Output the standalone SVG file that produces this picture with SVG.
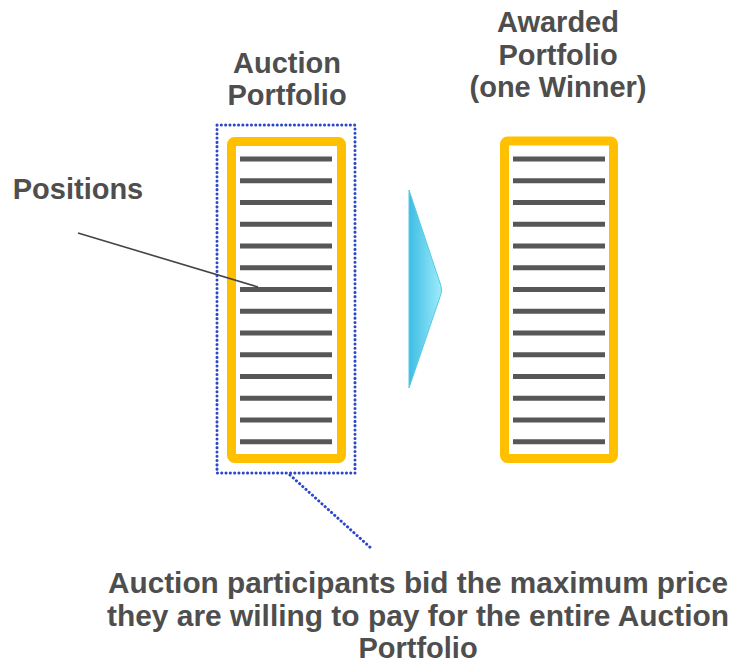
<svg xmlns="http://www.w3.org/2000/svg" width="733" height="668" viewBox="0 0 733 668">
<style>
.t{font-family:"Liberation Sans",Arial,sans-serif;font-weight:bold;font-size:29px;fill:#4e4e4e;text-anchor:middle}
.frame{fill:#fff;stroke:#FFC000;stroke-width:9}
.pos{stroke:#575757;stroke-width:5}
.dot{fill:none;stroke:#2c48c8;stroke-width:3;stroke-dasharray:0.1 4.2;stroke-linecap:round}
</style>
<defs>
<linearGradient id="ag" x1="0" y1="0" x2="1" y2="0">
<stop offset="0" stop-color="#3dbde4"/>
<stop offset="1" stop-color="#9eecfa"/>
</linearGradient>
<g id="lines">
<line class="pos" x1="0" y1="0" x2="92" y2="0"/>
<line class="pos" x1="0" y1="21.75" x2="92" y2="21.75"/>
<line class="pos" x1="0" y1="43.5" x2="92" y2="43.5"/>
<line class="pos" x1="0" y1="65.25" x2="92" y2="65.25"/>
<line class="pos" x1="0" y1="87" x2="92" y2="87"/>
<line class="pos" x1="0" y1="108.75" x2="92" y2="108.75"/>
<line class="pos" x1="0" y1="130.5" x2="92" y2="130.5"/>
<line class="pos" x1="0" y1="152.25" x2="92" y2="152.25"/>
<line class="pos" x1="0" y1="174" x2="92" y2="174"/>
<line class="pos" x1="0" y1="195.75" x2="92" y2="195.75"/>
<line class="pos" x1="0" y1="217.5" x2="92" y2="217.5"/>
<line class="pos" x1="0" y1="239.25" x2="92" y2="239.25"/>
<line class="pos" x1="0" y1="261" x2="92" y2="261"/>
<line class="pos" x1="0" y1="282.75" x2="92" y2="282.75"/>
</g>
</defs>
<rect width="733" height="668" fill="#fff"/>
<g id="auction-portfolio">
<text class="t" x="287" y="73">Auction</text>
<text class="t" x="287" y="105">Portfolio</text>
<rect class="dot" x="217" y="125" width="138" height="348"/>
<rect class="frame" x="231.5" y="141.5" width="110" height="317" rx="3"/>
<use href="#lines" x="240" y="159"/>
</g>
<g id="awarded-portfolio">
<text class="t" x="558" y="32">Awarded</text>
<text class="t" x="558" y="65">Portfolio</text>
<text class="t" x="558" y="97">(one Winner)</text>
<rect class="frame" x="504.5" y="141" width="109" height="317.5" rx="3"/>
<use href="#lines" x="513" y="159"/>
</g>
<g id="arrow">
<path d="M409,190 L441,286 Q442,290 441,294 L409,388 Z" fill="url(#ag)" stroke="#5cc8e4" stroke-width="1"/>
</g>
<g id="positions-label">
<text class="t" x="78" y="199">Positions</text>
</g>
<g id="bottom-label">
<text class="t" x="418" y="593" textLength="620" lengthAdjust="spacingAndGlyphs">Auction participants bid the maximum price</text>
<text class="t" x="418" y="626" textLength="622" lengthAdjust="spacingAndGlyphs">they are willing to pay for the entire Auction</text>
<text class="t" x="418" y="658">Portfolio</text>
</g>
<g id="connectors">
<line x1="78" y1="233" x2="258" y2="287" stroke="#444" stroke-width="1.6"/>
<line class="dot" x1="290" y1="475" x2="372" y2="549"/>
</g>
</svg>
